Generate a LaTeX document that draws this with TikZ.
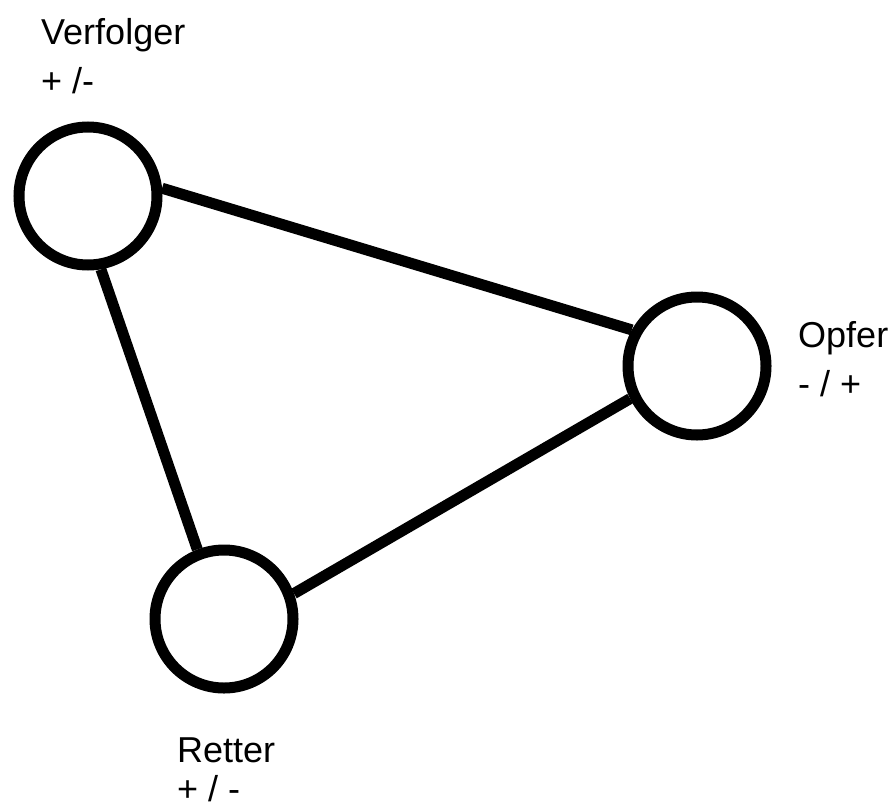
\documentclass[tikz,border=0pt]{standalone}
\usepackage{fontspec}
\setmainfont{Liberation Sans}
\begin{document}
\begin{tikzpicture}[x=1pt,y=-1pt,
  role/.style={circle,draw=black,line width=11pt,minimum size=138pt,inner sep=0pt,fill=white},
  link/.style={line width=11pt},
  lbl/.style={anchor=base west,inner sep=0pt,font=\fontsize{36}{44}\selectfont}]
\useasboundingbox[fill=white] (0,0) rectangle (890,808);
\node[role] (V) at (88,196) {};
\node[role] (O) at (697,366) {};
\node[role] (R) at (224,619) {};
\draw[link] (V.6) -- (O.151);
\draw[link] (V.-80) -- (R.111);
\draw[link] (O.206) -- (R.20);
\node[lbl] (vname) at (41,45) {Verfolger};
\node[lbl] (vsign) at (41,93) {+ /-};
\node[lbl] (oname) at (798,347) {Opfer};
\node[lbl] (osign) at (798,396) {- / +};
\node[lbl] (rname) at (177,762) {Retter};
\node[lbl] (rsign) at (177,801) {+ / -};
\end{tikzpicture}
\end{document}
